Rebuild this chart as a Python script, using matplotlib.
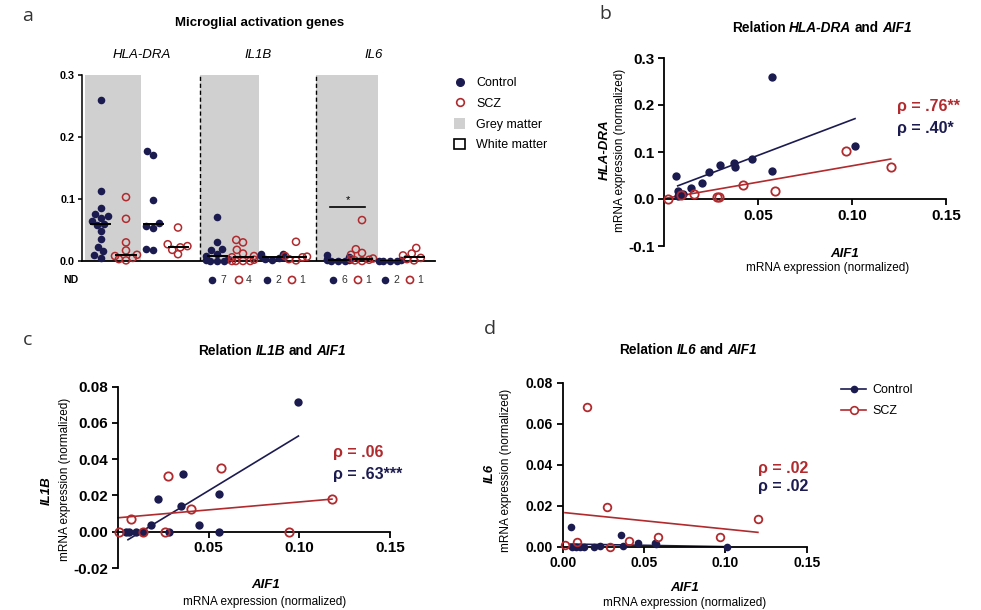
import matplotlib
matplotlib.use('Agg')
import matplotlib.pyplot as plt
import matplotlib.transforms as mtransforms
from matplotlib.lines import Line2D
from matplotlib.patches import Patch
import numpy as np

plt.rcParams['font.family'] = ['Liberation Sans', 'DejaVu Sans']

NAVY = '#1c1b50'
RED = '#b02a2e'
GREY = '#d0d0d0'
W, H = 981, 610

# ---- panel a: microglial activation genes (grey / white matter) ----
genes = ['HLA-DRA', 'IL1B', 'IL6']
hla_grey_ctrl = [0.260, 0.113, 0.085, 0.076, 0.073, 0.070, 0.065, 0.060, 0.058, 0.048, 0.035, 0.023, 0.016, 0.009, 0.005]
hla_grey_scz = [0.103, 0.068, 0.030, 0.017, 0.010, 0.008, 0.005, 0.003, 0.001]
hla_white_ctrl = [0.177, 0.171, 0.099, 0.061, 0.057, 0.054, 0.020, 0.018]
hla_white_scz = [0.054, 0.027, 0.024, 0.022, 0.018, 0.011]
il1b_grey_ctrl = [0.071, 0.031, 0.020, 0.017, 0.012, 0.008, 0.004, 0.002, 0.0, 0.0, 0.0]
il1b_grey_scz = [0.034, 0.030, 0.018, 0.012, 0.008, 0.006, 0.002, 0.0, 0.0, 0.0, 0.0]
il1b_white_ctrl = [0.012, 0.011, 0.008, 0.006, 0.005, 0.004, 0.002]
il1b_white_scz = [0.031, 0.008, 0.007, 0.006, 0.003, 0.001]
il6_grey_ctrl = [0.009, 0.007, 0.004, 0.003, 0.002, 0.001, 0.0, 0.0, 0.0]
il6_grey_scz = [0.066, 0.019, 0.013, 0.010, 0.004, 0.003, 0.002, 0.001, 0.0]
il6_white_ctrl = [0.001, 0.0005, 0.0, 0.0, 0.0]
il6_white_scz = [0.021, 0.012, 0.009, 0.005, 0.003, 0.001]
nd_counts = [7, 4, 2, 1, 6, 1, 2, 1]  # IL1B and IL6 slots

# ---- panel b: HLA-DRA vs AIF1 ----
b_ctrl_x = [0.0064, 0.0077, 0.0073, 0.0100, 0.0144, 0.020, 0.0237, 0.030, 0.037, 0.038, 0.047, 0.0575, 0.0575, 0.1016]
b_ctrl_y = [0.048, 0.018, 0.007, 0.010, 0.023, 0.035, 0.058, 0.072, 0.076, 0.068, 0.086, 0.259, 0.060, 0.112]
b_scz_x = [0.002, 0.009, 0.0157, 0.028, 0.0295, 0.042, 0.059, 0.097, 0.1206]
b_scz_y = [0.0, 0.009, 0.011, 0.005, 0.005, 0.030, 0.016, 0.103, 0.068]
b_ctrl_fit_x, b_ctrl_fit_y = [0.0073, 0.1016], [0.028, 0.171]
b_scz_fit_x, b_scz_fit_y = [0.0, 0.1206], [0.001, 0.085]

# ---- panel c: IL1B vs AIF1 ----
c_ctrl_x = [0.0045, 0.006, 0.010, 0.0136, 0.018, 0.022, 0.028, 0.035, 0.0356, 0.0445, 0.0555, 0.0555, 0.0995]
c_ctrl_y = [0.0, 0.0, 0.0, 0.0, 0.0035, 0.018, 0.0, 0.014, 0.032, 0.0039, 0.021, 0.0, 0.0717]
c_scz_x = [0.0004, 0.007, 0.0136, 0.026, 0.0275, 0.040, 0.057, 0.0945, 0.118]
c_scz_y = [0.0, 0.007, 0.0, 0.0, 0.0305, 0.0125, 0.0349, 0.0, 0.018]
c_ctrl_fit_x, c_ctrl_fit_y = [0.0055, 0.0995], [-0.0044, 0.0528]
c_scz_fit_x, c_scz_fit_y = [0.0, 0.118], [0.0077, 0.018]

# ---- panel d: IL6 vs AIF1 ----
d_ctrl_x = [0.0049, 0.0055, 0.008, 0.0107, 0.013, 0.019, 0.023, 0.036, 0.037, 0.046, 0.057, 0.0575, 0.101]
d_ctrl_y = [0.0098, 0.0, 0.0, 0.0, 0.0, 0.0, 0.0003, 0.0057, 0.0003, 0.0016, 0.002, 0.0013, 0.0]
d_scz_x = [0.0014, 0.0086, 0.0148, 0.027, 0.029, 0.041, 0.0588, 0.0967, 0.120]
d_scz_y = [0.0007, 0.0024, 0.068, 0.0195, 0.0, 0.0028, 0.0046, 0.0049, 0.0137]
d_ctrl_fit_x, d_ctrl_fit_y = [0.0045, 0.101], [0.0013, 0.0]
d_scz_fit_x, d_scz_fit_y = [0.0014, 0.120], [0.0166, 0.007]

rho_b = ['\u03c1 = .76**', '\u03c1 = .40*']
rho_c = ['\u03c1 = .06', '\u03c1 = .63***']
rho_d = ['\u03c1 = .02', '\u03c1 = .02']


def fx(px):
    return px / W


def fy(py):
    return 1 - py / H


def ftext(x, y, s, **kw):
    return fig.text(fx(x), fy(y), s, **kw)


def swarm(values, d, yscale, maxoff):
    # simple deterministic beeswarm, offsets in pixels
    values = np.asarray(values)
    xs = np.zeros(len(values))
    placed = []
    for i in np.argsort(values, kind='stable'):
        yp = values[i] * yscale
        cands = [0.0]
        for xj, yj in placed:
            dy = abs(yp - yj)
            if dy < d:
                dx = np.sqrt(d * d - dy * dy)
                cands += [xj - dx, xj + dx]
        cands.sort(key=abs)
        for c in cands:
            if all((c - xj) ** 2 + (yp - yj) ** 2 >= d * d - 1e-6 for xj, yj in placed):
                xs[i] = c
                placed.append((c, yp))
                break
    return np.clip(xs, -maxoff, maxoff)


def rich(x, y, parts, size):
    r = fig.canvas.get_renderer()
    texts = [ftext(0, y, s, fontsize=size, fontweight='bold', fontstyle=st,
                   va='baseline', ha='left') for s, st in parts]
    space = 0.25 * size * 100 / 72
    widths = [t.get_window_extent(r).width for t in texts]
    total = sum(widths) + space * (len(texts) - 1)
    cur = x - total / 2
    for t, w in zip(texts, widths):
        t.set_position((fx(cur), fy(y)))
        cur += w + space


fig = plt.figure(figsize=(9.81, 6.10), dpi=100)

# ================= panel a =================
ax = fig.add_axes([fx(82), fy(261), fx(435 - 82), (261 - 75) / H])
ax.set_xlim(82, 435)
ax.set_ylim(0, 0.3)
slot_x = [101, 126, 153, 178, 217, 243, 272, 296, 338, 362, 390, 414]
groups = [hla_grey_ctrl, hla_grey_scz, hla_white_ctrl, hla_white_scz,
          il1b_grey_ctrl, il1b_grey_scz, il1b_white_ctrl, il1b_white_scz,
          il6_grey_ctrl, il6_grey_scz, il6_white_ctrl, il6_white_scz]
for left, right in [(85, 141), (200, 259), (316, 378)]:
    ax.fill_between([left, right], 0, 0.3, color=GREY, lw=0, zorder=0)
for xd in [200, 316]:
    ax.plot([xd, xd], [0, 0.3], color='black', lw=1, ls=(0, (3, 2)), zorder=1)

yscale = 186 / 0.3
for i, (xc, vals) in enumerate(zip(slot_x, groups)):
    offs = swarm(vals, 7.2, yscale, 11)
    if i % 2 == 0:
        ax.scatter(xc + offs, vals, s=30, color=NAVY, lw=0, zorder=3, clip_on=False)
    else:
        ax.scatter(xc + offs, vals, s=26, facecolors='none', edgecolors=RED, lw=1.1,
                   zorder=3, clip_on=False)
    med = np.median(vals)
    ax.plot([xc - 9.5, xc + 9.5], [med, med], color='black', lw=1.4, zorder=4)

ax.plot([330, 365], [0.0876, 0.0876], color='black', lw=1.2)
ax.text(347.5, 0.091, '*', ha='center', va='bottom', fontsize=8)

for s in ['top', 'right']:
    ax.spines[s].set_visible(False)
ax.spines['left'].set_linewidth(1.1)
ax.spines['bottom'].set_linewidth(1.3)
ax.set_xticks([])
ax.set_yticks([0, 0.1, 0.2, 0.3])
ax.set_yticklabels(['0.0', '0.1', '0.2', '0.3'], fontweight='bold')
ax.tick_params(axis='y', labelsize=7.8, length=3, width=1.1, pad=2)

trans = mtransforms.blended_transform_factory(ax.transData, ax.transAxes)
for k, (xc, n) in enumerate(zip(slot_x[4:], nd_counts)):
    if k % 2 == 0:
        ax.scatter([xc - 5], [-0.102], s=30, color=NAVY, lw=0, transform=trans, clip_on=False)
    else:
        ax.scatter([xc - 4], [-0.102], s=26, facecolors='none', edgecolors=RED, lw=1.2,
                   transform=trans, clip_on=False)
    ax.text(xc + 6, -0.102, str(n), transform=trans, fontsize=7.5, color='#333333',
            ha='center', va='center')
ftext(71, 280, 'ND', fontsize=7.5, fontweight='bold', ha='center', va='center')

ftext(260, 23, 'Microglial activation genes', fontsize=9.5, fontweight='bold',
      ha='center', va='center')
for gx, g in zip([142, 258, 374], genes):
    ftext(gx, 55, g, fontsize=9.5, fontstyle='italic', ha='center', va='center')

handles = [Line2D([], [], marker='o', ls='none', color=NAVY, markersize=5.5),
           Line2D([], [], marker='o', ls='none', mfc='none', mec=RED, mew=1.2, markersize=5.5),
           Patch(facecolor=GREY, edgecolor='none'),
           Patch(facecolor='white', edgecolor='black', lw=1.2)]
ax.legend(handles, ['Control', 'SCZ', 'Grey matter', 'White matter'], loc='upper left',
          bbox_to_anchor=(fx(454), fy(77)), bbox_transform=fig.transFigure, frameon=False,
          fontsize=9, handlelength=0.9, handleheight=0.9, handletextpad=0.9,
          labelspacing=0.65, borderpad=0, borderaxespad=0)


# ================= scatter panels =================
def corr_panel(ax, cx, cy, sx, sy, cfx, cfy, sfx, sfy, ms):
    ax.plot(cfx, cfy, color=NAVY, lw=1.2, zorder=2, clip_on=False)
    ax.plot(sfx, sfy, color=RED, lw=1.2, zorder=2, clip_on=False)
    ax.plot(cx, cy, 'o', color=NAVY, ms=ms, mew=0, ls='none', clip_on=False, zorder=3)
    ax.plot(sx, sy, 'o', mfc='none', mec=RED, mew=1.3, ms=ms, ls='none', clip_on=False, zorder=3)
    for s in ['top', 'right']:
        ax.spines[s].set_visible(False)
    for s in ['left', 'bottom']:
        ax.spines[s].set_linewidth(1.3)
    ax.spines['bottom'].set_position(('data', 0))
    ax.set_xlim(0, 0.15)


def ticks(ax, xt, xl, yt, yl, size):
    ax.set_xticks(xt)
    ax.set_xticklabels(xl, fontweight='bold')
    ax.set_yticks(yt)
    ax.set_yticklabels(yl, fontweight='bold')
    ax.tick_params(labelsize=size, length=4, width=1.3, pad=3)


# panel b
axb = fig.add_axes([fx(664), fy(246), fx(946 - 664), (246 - 58) / H])
corr_panel(axb, b_ctrl_x, b_ctrl_y, b_scz_x, b_scz_y,
           b_ctrl_fit_x, b_ctrl_fit_y, b_scz_fit_x, b_scz_fit_y, 6)
axb.set_ylim(-0.1, 0.3)
ticks(axb, [0.05, 0.10, 0.15], ['0.05', '0.10', '0.15'],
      [-0.1, 0, 0.1, 0.2, 0.3], ['-0.1', '0.0', '0.1', '0.2', '0.3'], 11)
rich(822, 32, [('Relation', 'normal'), ('HLA-DRA', 'italic'), ('and', 'normal'), ('AIF1', 'italic')], 9.8)
ftext(605, 150, 'HLA-DRA', fontsize=9.5, fontweight='bold', fontstyle='italic',
      rotation=90, ha='center', va='center')
ftext(620, 150, 'mRNA expression (normalized)', fontsize=8.5, rotation=90, ha='center', va='center')
ftext(845, 254, 'AIF1', fontsize=9.5, fontweight='bold', fontstyle='italic', ha='center', va='center')
ftext(828, 268, 'mRNA expression (normalized)', fontsize=8.5, ha='center', va='center')
ftext(897, 107, rho_b[0], fontsize=11.5, fontweight='bold', color=RED, va='center')
ftext(897, 128, rho_b[1], fontsize=11.5, fontweight='bold', color=NAVY, va='center')

# panel c
axc = fig.add_axes([fx(118), fy(568), fx(390 - 118), (568 - 386.7) / H])
corr_panel(axc, c_ctrl_x, c_ctrl_y, c_scz_x, c_scz_y,
           c_ctrl_fit_x, c_ctrl_fit_y, c_scz_fit_x, c_scz_fit_y, 6)
axc.set_ylim(-0.02, 0.08)
ticks(axc, [0.05, 0.10, 0.15], ['0.05', '0.10', '0.15'],
      [-0.02, 0, 0.02, 0.04, 0.06, 0.08], ['-0.02', '0.00', '0.02', '0.04', '0.06', '0.08'], 11)
rich(272, 355, [('Relation', 'normal'), ('IL1B', 'italic'), ('and', 'normal'), ('AIF1', 'italic')], 9.8)
ftext(47, 491, 'IL1B', fontsize=9.5, fontweight='bold', fontstyle='italic',
      rotation=90, ha='center', va='center')
ftext(65, 479, 'mRNA expression (normalized)', fontsize=8.5, rotation=90, ha='center', va='center')
ftext(266, 585, 'AIF1', fontsize=9.5, fontweight='bold', fontstyle='italic', ha='center', va='center')
ftext(265, 602, 'mRNA expression (normalized)', fontsize=8.5, ha='center', va='center')
ftext(333, 453, rho_c[0], fontsize=11.5, fontweight='bold', color=RED, va='center')
ftext(333, 474, rho_c[1], fontsize=11.5, fontweight='bold', color=NAVY, va='center')

# panel d
axd = fig.add_axes([fx(562.7), fy(546.7), fx(806.7 - 562.7), (546.7 - 382.7) / H])
corr_panel(axd, d_ctrl_x, d_ctrl_y, d_scz_x, d_scz_y,
           d_ctrl_fit_x, d_ctrl_fit_y, d_scz_fit_x, d_scz_fit_y, 5.5)
axd.set_ylim(0, 0.08)
ticks(axd, [0, 0.05, 0.10, 0.15], ['0.00', '0.05', '0.10', '0.15'],
      [0, 0.02, 0.04, 0.06, 0.08], ['0.00', '0.02', '0.04', '0.06', '0.08'], 10)
rich(688, 354, [('Relation', 'normal'), ('IL6', 'italic'), ('and', 'normal'), ('AIF1', 'italic')], 9.8)
ftext(490, 473, 'IL6', fontsize=9.5, fontweight='bold', fontstyle='italic',
      rotation=90, ha='center', va='center')
ftext(506, 470, 'mRNA expression (normalized)', fontsize=8.5, rotation=90, ha='center', va='center')
ftext(685, 588, 'AIF1', fontsize=9.5, fontweight='bold', fontstyle='italic', ha='center', va='center')
ftext(685, 603, 'mRNA expression (normalized)', fontsize=8.5, ha='center', va='center')
ftext(758, 468, rho_d[0], fontsize=11.5, fontweight='bold', color=RED, va='center')
ftext(758, 487, rho_d[1], fontsize=11.5, fontweight='bold', color=NAVY, va='center')
dh = [Line2D([], [], color=NAVY, marker='o', ms=5.5, mew=0, lw=1.2),
      Line2D([], [], color=RED, marker='o', ms=5.5, mfc='white', mew=1.2, lw=1.2)]
axd.legend(dh, ['Control', 'SCZ'], loc='upper left', bbox_to_anchor=(fx(841), fy(384)),
           bbox_transform=fig.transFigure, frameon=False, fontsize=9, handlelength=2.0,
           handletextpad=0.5, labelspacing=0.75, borderpad=0, borderaxespad=0)

# panel letters
for lx, ly, letter in [(28, 16, 'a'), (605, 14, 'b'), (28, 340, 'c'), (490, 329, 'd')]:
    ftext(lx, ly, letter, fontsize=14, family=['Open Sans', 'DejaVu Sans'], color='#333333',
          ha='center', va='center')

fig.savefig('out.png', dpi=100)
